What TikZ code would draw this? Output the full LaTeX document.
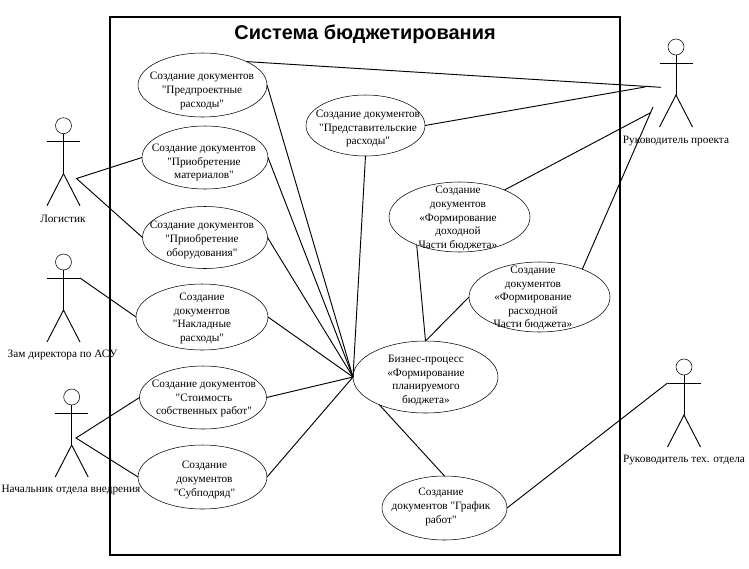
\documentclass[tikz,border=0pt]{standalone}
\usepackage{fontspec}
\newfontfamily\casefont{Liberation Serif}
\newfontfamily\titlefont{Liberation Sans}
\usetikzlibrary{shapes.geometric}
\tikzset{
  usecase/.style 2 args={ellipse, draw, inner sep=0pt, outer sep=0pt,
    minimum width=#1*1.5pt, minimum height=#2*1.5pt},
  casetext/.style={align=center, inner sep=0pt, yshift=-0.75pt, font=\casefont\fontsize{8.45}{10.2}\selectfont},
  actorhead/.style={circle, draw, inner sep=0pt, outer sep=0pt, minimum size=12pt},
  actorname/.style={inner sep=0pt, yshift=-1pt, font=\casefont\fontsize{8.45}{10.2}\selectfont},
  link/.style={line width=0.7pt}
}
\newcommand{\actorfig}[3]{
  \node[actorhead] (#1) at (#2,#3) {};
  \coordinate (#1-l) at (#2-16.5,#3+16);
  \coordinate (#1-r) at (#2+16.5,#3+16);
  \coordinate (#1-b) at (#2,#3+48);
  \draw[link] (#1-l) -- (#1-r);
  \draw[link] (#1.south) -- (#1-b);
  \draw[link] (#2-16.5,#3+80) -- (#1-b) -- (#2+16.5,#3+80);
}
\begin{document}
\begin{tikzpicture}[x=0.75pt, y=-0.75pt]
  \useasboundingbox (0,0) rectangle (749,568);

  % ===== System frame =====
  \draw[line width=0.8pt] (110,17) rectangle (620,555);
  \node[inner sep=0pt, font=\titlefont\bfseries\fontsize{14.95}{16}\selectfont] (title) at (365,34.5) {Система бюджетирования};

  % ===== Left column =====
  \node[usecase={64.5}{32}] (prepro) at (202.5,85) {};
  \node[casetext] (prepro-t) at (202,90) {Создание документов\\"Предпроектные\\расходы"};
  \node[usecase={63}{31.5}] (matter) at (205,157.5) {};
  \node[casetext] (matter-t) at (204,161.5) {Создание документов\\"Приобретение\\материалов"};
  \node[usecase={62.5}{31}] (equip) at (205,237.5) {};
  \node[casetext] (equip-t) at (202,239) {Создание документов\\"Приобретение\\оборудования"};
  \node[usecase={66}{33}] (overhead) at (202,317) {};
  \node[casetext] (overhead-t) at (202,317.5) {Создание\\документов\\"Накладные\\расходы"};
  \node[usecase={63.5}{31.5}] (ownwork) at (203,397.5) {};
  \node[casetext] (ownwork-t) at (204,397.5) {Создание документов\\"Стоимость\\собственных работ"};
  \node[usecase={64.5}{32}] (subcon) at (202.5,477) {};
  \node[casetext] (subcon-t) at (204.5,479) {Создание\\документов\\"Субподряд"};

  % ===== Right part =====
  \node[usecase={59.5}{30.5}] (repres) at (365.5,125.5) {};
  \node[casetext] (repres-t) at (368,127.5) {Создание документов\\"Представительские\\расходы"};
  \node[usecase={70.5}{35}] (income) at (459.5,217) {};
  \node[casetext] (income-t) at (458,217.5) {Создание\\документов\\«Формирование\\доходной\\Части бюджета»};
  \node[usecase={70.5}{35}] (expense) at (539.5,297) {};
  \node[casetext] (expense-t) at (533,297) {Создание\\документов\\«Формирование\\расходной\\Части бюджета»};
  \node[usecase={72.5}{36}] (bproc) at (425.5,377) {};
  \node[casetext] (bproc-t) at (426,379.5) {Бизнес-процесс\\«Формирование\\планируемого\\бюджета»};
  \node[usecase={62.5}{32}] (sched) at (444.5,508) {};
  \node[casetext] (sched-t) at (441,506) {Создание\\документов "График\\работ"};

  % ===== Actors =====
  \actorfig{logist}{63.5}{125.7}
  \node[actorname] (logist-t) at (63,218) {Логистик};
  \actorfig{deputy}{63.5}{262}
  \node[actorname] (deputy-t) at (62.5,354) {Зам директора по АСУ};
  \actorfig{chief}{71.7}{397}
  \node[actorname] (chief-t) at (71,489) {Начальник отдела внедрения};
  \actorfig{pm}{676}{47}
  \node[actorname] (pm-t) at (676,140) {Руководитель проекта};
  \actorfig{techlead}{684}{367}
  \node[actorname] (techlead-t) at (684,459) {Руководитель тех. отдела};

  % free line ends
  \coordinate (logist-c) at (76.5,178.5);
  \coordinate (chief-c) at (76,438);
  \coordinate (pm-a) at (661,87.3);
  \coordinate (pm-b) at (645,87);
  \coordinate (pm-c) at (650,113);
  \coordinate (pm-d) at (653,107);

  % ===== Actor links =====
  \draw[link] (matter.west) -- (logist-c) -- (equip.west);
  \draw[link] (deputy-r) -- (overhead.west);
  \draw[link] (ownwork.west) -- (chief-c) -- (subcon.west);
  \draw[link] (prepro.28) -- (pm-a);
  \draw[link] (repres.east) -- (pm-b);
  \draw[link] (income.31) -- (pm-c);
  \draw[link] (expense.33) -- (pm-d);
  \draw[link] (sched.east) -- (techlead-l);

  % ===== Links to the business process =====
  \foreach \uc in {prepro, matter, equip, overhead, ownwork, subcon}
    \draw[link] (\uc.east) -- (bproc.west);
  \draw[link] (repres.south) -- (bproc.west);
  \draw[link] (income.213) -- (bproc.north);
  \draw[link] (expense.west) -- (bproc.north);
  \draw[link] (bproc.211) -- (sched.north);
\end{tikzpicture}
\end{document}
